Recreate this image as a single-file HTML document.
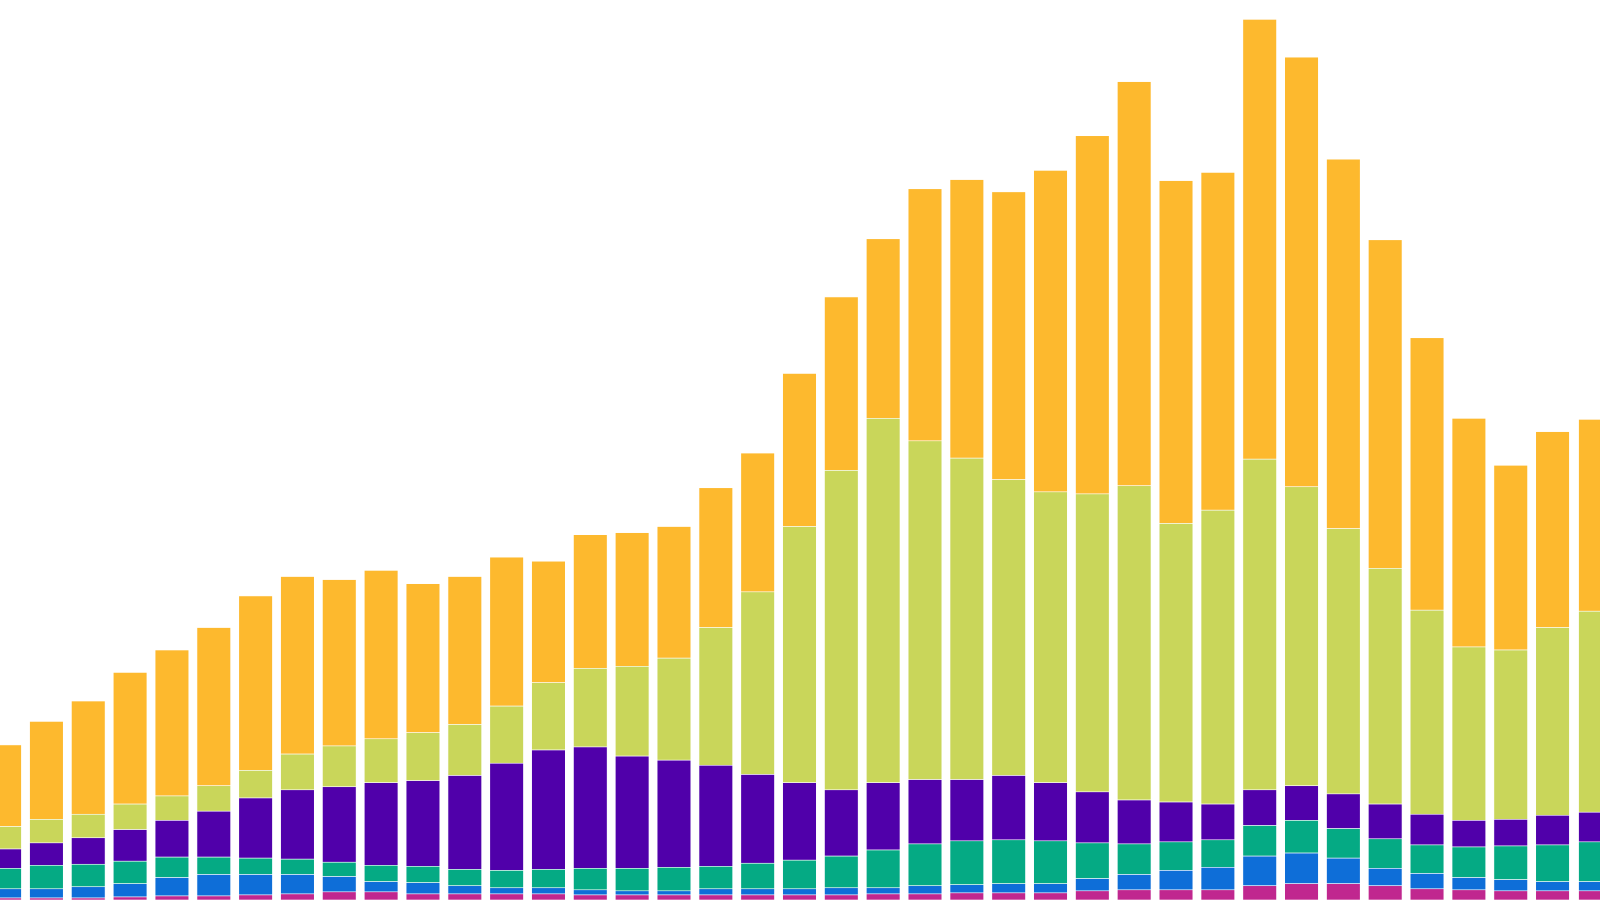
<!DOCTYPE html>
<html><head><meta charset="utf-8"><style>html,body{margin:0;padding:0;background:#fff;overflow:hidden}svg{display:block}</style></head>
<body>
<svg id="c" width="1600" height="900" viewBox="0 0 1568 882" preserveAspectRatio="none" xmlns="http://www.w3.org/2000/svg"></svg>
<script>
const d=[
[-12,730,810,832,851,871,880],[29,707,803,826,848,871,880],[70,687,798,821,847,869,880],[111,659,788,813,844,866,879],
[152,637,780,804,840,860,878],[193,615,770,795,840,857,878],[234,584,755,782,841,857,877],[275,565,739,774,842,857,876],
[316,568,731,771,845,859,874],[357,559,724,767,848,864,874],[398,572,718,765,849,865,876],[439,565,710,760,852,868,876],
[480,546,692,748,853,870,876],[521,550,669,735,852,870,876],[562,524,655,732,851,872,877],[603,522,653,741,851,873,877],
[644,516,645,745,850,873,877],[685,478,615,750,849,871,877],[726,444,580,759,846,871,877],[767,366,516,767,843,871,877],
[808,291,461,774,839,870,877],[849,234,410,767,833,870,876],[890,185,432,764,827,868,876],[931,176,449,764,824,867,875],
[972,188,470,760,823,866,875],[1013,167,482,767,824,866,875],[1054,133,484,776,826,861,873],[1095,80,476,784,827,857,872],
[1136,177,513,786,825,853,872],[1177,169,500,788,823,850,872],[1218,19,450,774,809,839,868],[1259,56,477,770,804,836,866],
[1300,156,518,778,812,841,866],[1341,235,557,788,822,851,868],[1382,331,598,798,828,856,871],[1423,410,634,804,830,860,872],
[1464,456,637,803,829,862,873],[1505,423,615,799,828,864,873],[1547,411,599,796,825,864,873]];
const col=["#FDB92E","#C9D65A","#5000AA","#05AA84","#0E6ED8","#C0278F"];
let s="";
for(const r of d){const x=r[0];for(let i=0;i<6;i++){const y0=r[i+1],y1=i<5?r[i+2]:882;
s+=`<rect x="${x}" y="${y0}" width="33" height="${y1-y0}" fill="${col[i]}" stroke="#fff" stroke-width="0.6"/>`;}}
document.getElementById("c").innerHTML=s;
</script>
</body></html>
